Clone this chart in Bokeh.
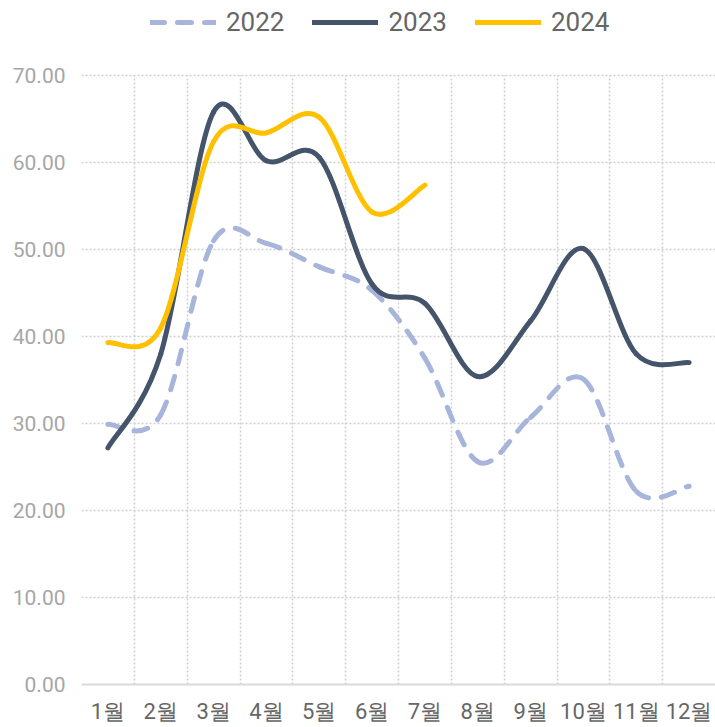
from bokeh.plotting import figure
from bokeh.models import (FixedTicker, NumeralTickFormatter, Legend, LegendItem,
                          ColumnDataSource, Range1d)
from bokeh.embed import file_html
from bokeh.resources import INLINE

months = ["1월", "2월", "3월", "4월", "5월", "6월", "7월", "8월", "9월", "10월", "11월", "12월"]
v2022 = [29.9, 31.0, 51.0, 50.7, 48.0, 45.3, 37.5, 25.6, 30.7, 35.1, 22.2, 22.8]
v2023 = [27.2, 38.0, 65.8, 60.2, 60.6, 46.0, 43.8, 35.4, 41.8, 50.1, 38.0, 37.0]
v2024 = [39.3, 41.0, 62.4, 63.4, 65.2, 54.3, 57.4]
yticks = [0, 10, 20, 30, 40, 50, 60, 70]

FONT = "Roboto"
PLOT_W, PLOT_H = 634, 609       # size of the 0..70 plotting area
TOP = 75                        # legend strip above the plotting area
BL, BB = 81, 43
YMAX = 70 * (PLOT_H + TOP) / PLOT_H   # range extended so the legend sits in the frame


def smooth_source(vals):
    """Smoothed line (Catmull-Rom style Bezier segments through the monthly points)."""
    n = len(vals)
    xs = [i + 0.5 for i in range(n)]
    d = dict(x0=[], y0=[], x1=[], y1=[], cx0=[], cy0=[], cx1=[], cy1=[])
    for i in range(n - 1):
        a = i - 1 if i > 0 else i
        b = i + 2 if i + 2 < n else i + 1
        d["x0"].append(xs[i]); d["y0"].append(vals[i])
        d["x1"].append(xs[i + 1]); d["y1"].append(vals[i + 1])
        d["cx0"].append(xs[i] + (xs[i + 1] - xs[a]) / 6)
        d["cy0"].append(vals[i] + (vals[i + 1] - vals[a]) / 6)
        d["cx1"].append(xs[i + 1] - (xs[b] - xs[i]) / 6)
        d["cy1"].append(vals[i + 1] - (vals[b] - vals[i]) / 6)
    return ColumnDataSource(d)


p = figure(frame_width=PLOT_W, frame_height=PLOT_H + TOP, output_backend="svg",
           toolbar_location=None, x_range=Range1d(0, 12), y_range=Range1d(0, YMAX),
           min_border_left=BL, min_border_right=0, min_border_top=0, min_border_bottom=BB)
p.outline_line_color = None
p.background_fill_color = "white"
p.border_fill_color = "white"

# grids
p.xgrid.ticker = FixedTicker(ticks=list(range(12)))
p.ygrid.ticker = FixedTicker(ticks=yticks)
for g in (p.xgrid, p.ygrid):
    g.grid_line_color = "#cfcfcf"
    g.grid_line_dash = "2 2"
    g.grid_line_width = 1.5
try:
    p.xgrid.cross_bounds = (0, 70)
except Exception:
    p.xgrid.visible = False
    p.segment(x0=list(range(12)), y0=0, x1=list(range(12)), y1=70,
              line_color="#cfcfcf", line_dash="2 2", line_width=1.5)

# axes
p.xaxis.ticker = FixedTicker(ticks=[i + 0.5 for i in range(12)])
p.xaxis.major_label_overrides = {i + 0.5: m for i, m in enumerate(months)}
p.xaxis.axis_line_color = "#d9d9d9"
p.xaxis.axis_line_width = 2
p.xaxis.major_tick_line_color = None
p.xaxis.minor_tick_line_color = None
p.xaxis.major_tick_out = 0
p.xaxis.major_tick_in = 0
p.xaxis.major_label_text_font = FONT
p.xaxis.major_label_text_font_size = "22px"
p.xaxis.major_label_text_color = "#666666"
p.xaxis.major_label_standoff = 14

p.yaxis.ticker = FixedTicker(ticks=yticks)
p.yaxis.formatter = NumeralTickFormatter(format="0.00")
p.yaxis.axis_line_color = None
p.yaxis.major_tick_line_color = None
p.yaxis.minor_tick_line_color = None
p.yaxis.major_tick_out = 0
p.yaxis.major_tick_in = 0
p.yaxis.major_label_text_font = FONT
p.yaxis.major_label_text_font_size = "21px"
p.yaxis.major_label_text_color = "#a6a6a6"
p.yaxis.major_label_standoff = 16

r22 = p.bezier("x0", "y0", "x1", "y1", "cx0", "cy0", "cx1", "cy1", source=smooth_source(v2022),
               line_color="#a7b5db", line_width=5, line_dash="14 13", line_cap="round")
r23 = p.bezier("x0", "y0", "x1", "y1", "cx0", "cy0", "cx1", "cy1", source=smooth_source(v2023),
               line_color="#44546a", line_width=5, line_cap="round")
r24 = p.bezier("x0", "y0", "x1", "y1", "cx0", "cy0", "cx1", "cy1", source=smooth_source(v2024),
               line_color="#ffc000", line_width=5, line_cap="round")

legend = Legend(items=[LegendItem(label="2022", renderers=[r22]),
                       LegendItem(label="2023", renderers=[r23]),
                       LegendItem(label="2024", renderers=[r24])],
                orientation="horizontal", location=(69, PLOT_H + TOP - 37),
                glyph_width=66, glyph_height=30, label_standoff=10, spacing=28,
                padding=0, margin=0, border_line_color=None, background_fill_alpha=0,
                label_text_font=FONT, label_text_font_size="26px", label_text_color="#666666")
p.add_layout(legend, "center")

open("out.html", "w").write(file_html(p, INLINE))
